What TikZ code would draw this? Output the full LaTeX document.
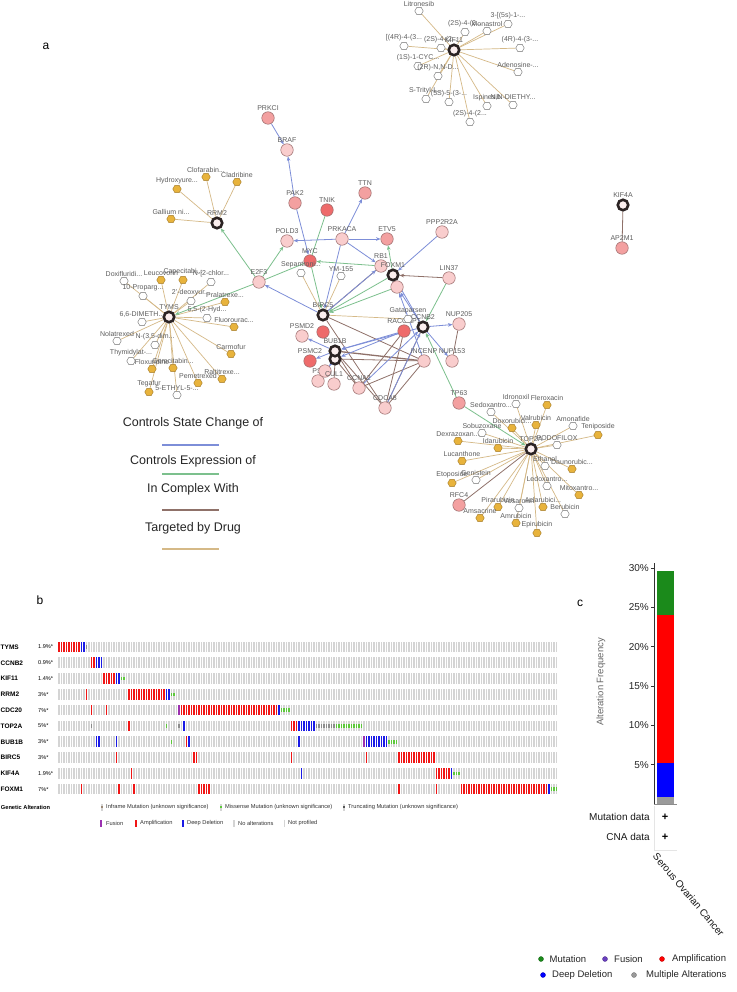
\documentclass[tikz,border=0pt]{standalone}
\usepackage{fontspec}
\setmainfont{Liberation Sans}
\usetikzlibrary{shapes.geometric,arrows.meta}
\pgfdeclarelayer{bg}
\pgfsetlayers{bg,main}
\definecolor{cblue}{HTML}{7D8ED8}
\definecolor{cgreen}{HTML}{7CC08D}
\definecolor{cbrown}{HTML}{8F7169}
\definecolor{ctan}{HTML}{D5B987}
\definecolor{plight}{HTML}{F9CDCD}
\definecolor{pmed}{HTML}{F3A0A0}
\definecolor{pred}{HTML}{EE6B6B}
\definecolor{tfill}{HTML}{FBEEEE}
\definecolor{tborder}{HTML}{2B2323}
\definecolor{gborder}{HTML}{9A6C6C}
\definecolor{dorange}{HTML}{E8B33C}
\definecolor{dborder}{HTML}{A37B2A}
\definecolor{wborder}{HTML}{6E6E6E}
\definecolor{lblgray}{HTML}{5E5E5E}
\definecolor{opgray}{HTML}{D4D4D4}
\definecolor{opred}{HTML}{F01515}
\definecolor{opblue}{HTML}{1A1AE6}
\definecolor{opgreen}{HTML}{5CC93A}
\definecolor{optrunc}{HTML}{8C8C8C}
\definecolor{oppurple}{HTML}{9B30B0}
\definecolor{barg}{HTML}{1B8A1B}
\definecolor{barr}{HTML}{FF0000}
\definecolor{barb}{HTML}{0000FF}
\definecolor{barm}{HTML}{9A9A9A}
\definecolor{lgpurple}{HTML}{6A3FBF}
\tikzset{
  gene/.style={circle,minimum size=12.5pt,inner sep=0pt,draw=gborder,line width=0.5pt,fill=#1},
  gene/.default=plight,
  tgt/.style={circle,minimum size=10.5pt,inner sep=0pt,draw=tborder,line width=2.6pt,fill=tfill},
  dro/.style={regular polygon,regular polygon sides=6,minimum size=8.5pt,inner sep=0pt,fill=dorange,draw=dborder,line width=0.4pt},
  drw/.style={regular polygon,regular polygon sides=6,minimum size=8.5pt,inner sep=0pt,fill=white,draw=wborder,line width=0.4pt},
  lbl/.style={font=\fontsize{7}{7}\selectfont,text=lblgray,inner sep=0.6pt},
  ar/.style={-{Stealth[length=4.5pt,width=3.6pt]}},
  eb/.style={draw=cblue,line width=0.8pt},
  eg/.style={draw=cgreen,line width=0.8pt},
  ebr/.style={draw=cbrown,line width=0.8pt},
  et/.style={draw=ctan,line width=0.7pt},
  legtxt/.style={font=\fontsize{12.5}{12.5}\selectfont,text=black!85},
  oplab/.style={font=\fontsize{5.7}{5.7}\selectfont,text=black!80,anchor=west,inner sep=0pt},
  ctxt/.style={font=\fontsize{9.5}{9.5}\selectfont,text=black!85,anchor=west,inner sep=0pt},
  cdot/.style={circle,minimum size=5pt,inner sep=0pt,fill=#1,draw=#1!70!black,line width=0.3pt},
}
\newcommand\DO[3]{\node[dro,label={[lbl]above:{#3}}] (#1) at (#2) {};}
\newcommand\DW[3]{\node[drw,label={[lbl]above:{#3}}] (#1) at (#2) {};}
\newcommand\GN[4]{\node[gene=#2,label={[lbl]above:{#4}}] (#1) at (#3) {};}
\newcommand\TG[3]{\node[tgt,label={[lbl]above:{#3}}] (#1) at (#2) {};}
\newcommand\OPA[3]{\foreach \smp in {#3}{\fill[#1] ({58+2.5*\smp},{641.6+15.8*#2}) rectangle ++(1.8,10.6);}}
\newcommand\OPM[3]{\foreach \smp in {#3}{\fill[#1] ({58+2.5*\smp},{645.1+15.8*#2}) rectangle ++(1.8,3.6);}}
\newcommand\OPL[3]{\node[font=\bfseries\fontsize{6.5}{6.5}\selectfont,anchor=west,inner sep=0pt] (gl#1) at (0.5,{647+15.8*#1}) {#2};
  \node[font=\fontsize{5.6}{5.6}\selectfont,anchor=west,inner sep=0pt] (gp#1) at (38,{647+15.8*#1}) {#3};}
\begin{document}
\begin{tikzpicture}[x=1pt,y=-1pt]
\useasboundingbox (0,0) rectangle (736,992);
\begin{pgfonlayer}{bg}
\fill[white] (0,0) rectangle (736,992);
\end{pgfonlayer}

% ---------------- panel a ----------------
\node[font=\fontsize{12}{12}\selectfont] (la) at (46,46) {a};

% genes
\GN{prkci}{pmed}{268,118}{PRKCI}
\GN{braf}{plight}{287,150}{BRAF}
\GN{pak2}{pmed}{295,203}{PAK2}
\GN{tnik}{pred}{327,210}{TNIK}
\GN{ttn}{pmed}{365,193}{TTN}
\GN{pold3}{plight}{287,241}{POLD3}
\GN{prkaca}{plight}{342,239}{PRKACA}
\GN{etv5}{pmed}{387,239}{ETV5}
\GN{ppp}{plight}{442,232}{PPP2R2A}
\GN{myc}{pred}{310,261}{MYC}
\GN{rb1}{plight}{381,266}{RB1}
\GN{lin37}{plight}{449,278}{LIN37}
\GN{e2f3}{plight}{259,282}{E2F3}
\GN{n1}{plight}{397,287}{}
\GN{psmd2}{plight}{302,336}{PSMD2}
\GN{n2}{pred}{323,332}{}
\GN{psmc}{pred}{310,361}{PSMC2}
\GN{psi}{plight}{318,381}{PSI}
\GN{n3}{plight}{325,371}{}
\GN{cul1}{plight}{334,384}{CUL1}
\GN{ccna}{plight}{359,388}{CCNA2}
\GN{cdca8}{plight}{385,408}{CDCA8}
\GN{rac}{pred}{404,331}{RACGAP1}
\GN{incenp}{plight}{424,361}{INCENP}
\GN{nup205}{plight}{459,324}{NUP205}
\GN{nup153}{plight}{452,361}{NUP153}
\GN{tp63}{pmed}{459,403}{TP63}
\GN{rfc4}{pmed}{459,505}{RFC4}
\GN{ap2m1}{pmed}{622,248}{AP2M1}

% drug targets
\TG{kif11}{454,50}{KIF11}
\TG{rrm2}{217,223}{RRM2}
\TG{tyms}{169,317}{TYMS}
\TG{birc5}{323,315}{BIRC5}
\TG{foxm1}{393,275}{FOXM1}
\TG{cdc20}{335,359}{}
\TG{bub1b}{335,351}{BUB1B}
\TG{ccnb2}{423,327}{CCNB2}
\TG{top2a}{531,449}{TOP2A}
\TG{kif4a}{623,205}{KIF4A}

% BIRC5 drugs
\DW{sep}{301,273}{Sepantroni...}
\DW{ym}{341,276}{YM-155}
\DW{gat}{408,319}{Gataparsen}

% KIF11 drugs
\DW{k1}{419,11}{Litronesib}
\DW{k2}{508,24}{3-[(5s)-1-...}
\DW{k3}{465,32}{(2S)-4-(2...}
\DW{k4}{487,31}{Monastrol}
\DW{k5}{404,46}{[(4R)-4-(3...}
\DW{k6}{441,48}{(2S)-4-(2...}
\DW{k7}{520,48}{(4R)-4-(3-...}
\DW{k8}{418,66}{(1S)-1-CYC...}
\DW{k9}{438,76}{(2R)-N,N-D...}
\DW{k10}{518,72}{Adenosine-...}
\DW{k11}{426,99}{S-Trityl-L...}
\DW{k12}{449,102}{(5S)-5-(3-...}
\DW{k13}{487,106}{Ispinesib}
\DW{k14}{513,105}{N,N-DIETHY...}
\DW{k15}{470,122}{(2S)-4-(2...}

% RRM2 drugs
\DO{r1}{206,177}{Clofarabin...}
\DO{r2}{237,182}{Cladribine}
\DO{r3}{177,189}{Hydroxyure...}
\DO{r4}{171,219}{Gallium ni...}

% TYMS drugs
\DW{t1}{124,281}{Doxifluridi...}
\DO{t2}{161,280}{Leucovorin}
\DO{t3}{183,280}{Capecitabi...}
\DW{t4}{211,282}{N-[2-chlor...}
\DW{t5}{143,296}{10-Proparg...}
\DW{t6}{191,301}{2'-deoxyur...}
\DO{t7}{225,302}{Pralatrexe...}
\DW{t8}{142,322}{6,6-DIMETH...}
\DW{t9}{207,318}{5,5-(2-Hyd...}
\DO{t10}{234,327}{Fluorourac...}
\DW{t11}{117,341}{Nolatrexed}
\DW{t12}{155,345}{N-(3,5-dim...}
\DW{t13}{131,361}{Thymidylat-...}
\DO{t14}{231,354}{Carmofur}
\DO{t15}{152,369}{Floxuridine}
\DO{t16}{173,368}{Gemcitabin...}
\DO{t17}{222,379}{Raltitrexe...}
\DO{t18}{198,383}{Pemetrexed}
\DO{t19}{149,392}{Tegafur}
\DW{t20}{177,395}{5-ETHYL-5-...}

% TOP2A drugs
\DW{p1}{516,404}{Idronoxil}
\DO{p2}{547,405}{Fleroxacin}
\DW{p3}{491,412}{Sedoxantro...}
\DO{p4}{512,428}{Doxorubici...}
\DO{p5}{536,425}{Valrubicin}
\DW{p6}{573,426}{Amonafide}
\DO{p7}{598,435}{Teniposide}
\DW{p8}{482,433}{Sobuzoxane}
\DO{p9}{458,441}{Dexrazoxan...}
\DO{p10}{498,448}{Idarubicin}
\DW{p11}{557,445}{PODOFILOX}
\DO{p12}{462,461}{Lucanthone}
\DW{p13}{545,466}{Ethanol}
\DO{p14}{572,469}{Daunorubic...}
\DW{p15}{547,486}{Ledoxantro...}
\DO{p16}{579,495}{Mitoxantro...}
\DO{p17}{452,483}{Etoposide}
\DW{p18}{476,480}{Genistein}
\DO{p19}{498,507}{Pirarubicin}
\DW{p20}{519,508}{Vosaroxin}
\DO{p21}{543,507}{Aclarubici...}
\DW{p22}{565,514}{Berubicin}
\DO{p23}{480,518}{Amsacrine}
\DO{p24}{516,523}{Amrubicin}
\DO{p25}{537,533}{Epirubicin}

\begin{pgfonlayer}{bg}
% drug edges
\foreach \d in {k1,k2,k3,k4,k5,k6,k7,k8,k9,k10,k11,k12,k13,k14,k15} \draw[et] (kif11) -- (\d);
\foreach \d in {r1,r2,r3,r4} \draw[et] (rrm2) -- (\d);
\foreach \d in {t1,t2,t3,t4,t5,t6,t7,t8,t9,t10,t11,t12,t13,t14,t15,t16,t17,t18,t19,t20} \draw[et] (tyms) -- (\d);
\foreach \d in {p1,p2,p3,p4,p5,p6,p7,p8,p9,p10,p11,p12,p13,p14,p15,p16,p17,p18,p19,p20,p21,p22,p23,p24,p25} \draw[et] (top2a) -- (\d);
\foreach \d in {sep,ym,gat} \draw[et] (birc5) -- (\d);
% in complex with
\draw[ebr,line width=1.3pt] (bub1b) -- (incenp);
\foreach \a/\b in {cdc20/incenp,bub1b/cdca8,cdc20/ccna,birc5/incenp,birc5/cdca8,birc5/rb1,rac/cdca8,rac/ccna,ccnb2/cdca8,incenp/cdca8,incenp/ccna,nup205/nup153,rfc4/top2a,kif4a/ap2m1,cdc20/cul1,bub1b/ccna}
  \draw[ebr] (\a) -- (\b);
\draw[ebr,ar] (lin37) -- (foxm1);
% controls expression of
\foreach \a/\b in {e2f3/rrm2,e2f3/tyms,e2f3/pold3,myc/birc5,rb1/myc,foxm1/etv5,foxm1/birc5,lin37/ccnb2,tp63/ccnb2,tp63/top2a,n1/birc5}
  \draw[eg,ar] (\a) -- (\b);
\draw[eg] (myc) -- (e2f3);
\draw[eg] (tnik) -- (myc);
% controls state change of
\foreach \a/\b in {prkci/braf,pak2/braf,pak2/myc,prkaca/pold3,prkaca/etv5,prkaca/ttn,prkaca/rb1,prkaca/birc5,ppp/foxm1,birc5/e2f3,ccnb2/nup205,ccnb2/nup153,ccnb2/foxm1,ccnb2/n1,ccnb2/bub1b,rac/bub1b,rac/cdc20,cdca8/ccnb2,ccna/ccnb2,birc5/rb1,bub1b/psmd2,bub1b/psmc,cdc20/psi,cdc20/n3,incenp/n1}
  \draw[eb,ar] (\a) -- (\b);
\end{pgfonlayer}

% network legend
\node[legtxt] (lg1) at (193,423) {Controls State Change of};
\draw[cblue,line width=1.6pt] (162,445) -- (219,445);
\node[legtxt] (lg2) at (193,461) {Controls Expression of};
\draw[cgreen,line width=1.6pt] (162,474) -- (219,474);
\node[legtxt] (lg3) at (193,489) {In Complex With};
\draw[cbrown,line width=1.6pt] (162,510) -- (219,510);
\node[legtxt] (lg4) at (193,528) {Targeted by Drug};
\draw[ctan,line width=1.6pt] (162,549) -- (219,549);

% ---------------- panel b ----------------
\node[font=\fontsize{12}{12}\selectfont] (lb) at (40,600) {b};
\foreach \r in {0,...,9}{
  \foreach \smp in {0,...,199}{
    \fill[opgray] ({58+2.5*\smp},{641.6+15.8*\r}) rectangle ++(1.8,10.6);
  }
}
\OPL{0}{TYMS}{1.9\%*}
\OPL{1}{CCNB2}{0.9\%*}
\OPL{2}{KIF11}{1.4\%*}
\OPL{3}{RRM2}{3\%*}
\OPL{4}{CDC20}{7\%*}
\OPL{5}{TOP2A}{5\%*}
\OPL{6}{BUB1B}{3\%*}
\OPL{7}{BIRC5}{3\%*}
\OPL{8}{KIF4A}{1.9\%*}
\OPL{9}{FOXM1}{7\%*}
% TYMS
\OPA{opred}{0}{0,...,8}\OPA{opblue}{0}{9,10}\OPM{optrunc}{0}{11}
% CCNB2
\OPA{opred}{1}{13,14}\OPA{opblue}{1}{15,16,17}
% KIF11
\OPA{opred}{2}{18,...,22}\OPA{opblue}{2}{23,24}\OPM{opgreen}{2}{25,26}
% RRM2
\OPA{opred}{3}{11}\OPA{opred}{3}{28,...,42}\OPA{opblue}{3}{43,44}\OPM{opgreen}{3}{45,46}
% CDC20
\OPA{opred}{4}{13,19}\OPA{oppurple}{4}{48}\OPA{opred}{4}{49,...,87}\OPA{opblue}{4}{88}\OPM{opgreen}{4}{89,...,92}
% TOP2A
\OPM{optrunc}{5}{13,48}\OPA{opred}{5}{28}\OPM{opgreen}{5}{43}\OPA{opblue}{5}{50}\OPA{opred}{5}{93,94,95}
\OPA{opblue}{5}{96,...,102}\OPM{optrunc}{5}{103,...,110}\OPM{opgreen}{5}{111,...,121}
% BUB1B
\OPA{opblue}{6}{15,16}\OPA{opblue}{6}{23}\OPM{opgreen}{6}{45}\OPA{opred}{6}{51}\OPA{opblue}{6}{52,96}
\OPA{oppurple}{6}{122}\OPA{opblue}{6}{123,...,131}\OPM{opgreen}{6}{132,...,135}
% BIRC5
\OPA{opred}{7}{23}\OPA{opred}{7}{54,55}\OPA{opred}{7}{93,123}\OPA{opred}{7}{136,...,150}
% KIF4A
\OPA{opred}{8}{29}\OPA{opblue}{8}{97}\OPA{opred}{8}{151,...,156}\OPA{opblue}{8}{157}\OPM{opgreen}{8}{158,159,160}
% FOXM1
\OPA{opred}{9}{9,24,30}\OPA{opred}{9}{56,...,60}\OPA{opred}{9}{136,151}\OPA{opred}{9}{161,...,195}\OPA{opblue}{9}{196}\OPM{opgreen}{9}{197,198,199}

% oncoprint legend
\node[font=\bfseries\fontsize{5.7}{5.7}\selectfont,anchor=west,inner sep=0pt] (galt) at (0.7,807) {Genetic Alteration};
\fill[opgray] (101,803.5) rectangle ++(1.8,7);
\fill[optrunc!70!brown] (101,805.7) rectangle ++(1.8,2.6);
\node[oplab] (lt1) at (106,807) {Inframe Mutation (unknown significance)};
\fill[opgray] (220,803.5) rectangle ++(1.8,7);
\fill[opgreen] (220,805.7) rectangle ++(1.8,2.6);
\node[oplab] (lt2) at (225,807) {Missense Mutation (unknown significance)};
\fill[opgray] (343,803.5) rectangle ++(1.8,7);
\fill[optrunc!60!black] (343,805.7) rectangle ++(1.8,2.6);
\node[oplab] (lt3) at (348,807) {Truncating Mutation (unknown significance)};
\fill[oppurple] (100,819.5) rectangle ++(2,7);
\node[oplab] (lt4) at (106,823) {Fusion};
\fill[opred] (134.5,819.5) rectangle ++(2,7);
\node[oplab] (lt5) at (140,823) {Amplification};
\fill[opblue] (181.5,819.5) rectangle ++(2,7);
\node[oplab] (lt6) at (187,823) {Deep Deletion};
\fill[opgray] (232.5,819.5) rectangle ++(2,7);
\node[oplab] (lt7) at (238,823) {No alterations};
\draw[opgray,line width=0.3pt] (284,819.5) -- (284,826.5);
\node[oplab] (lt8) at (288,823) {Not profiled};

% ---------------- panel c ----------------
\node[font=\fontsize{12}{12}\selectfont] (lc) at (580,603) {c};
\node[rotate=90,font=\fontsize{9.5}{9.5}\selectfont,text=black!60] (yl) at (601,682) {Alteration Frequency};
\fill[barm] (657,804) rectangle (674,797);
\fill[barb] (657,797) rectangle (674,763);
\fill[barr] (657,763) rectangle (674,615);
\fill[barg] (657,615) rectangle (674,570.5);
\draw[black!80,line width=0.6pt] (654,563) -- (654,804.5);
\draw[black!45,line width=0.9pt] (654,804.8) -- (677,804.8);
\foreach \v in {5,10,...,30}{
  \draw[black!80,line width=0.6pt] (651,{804-7.87*\v}) -- (654,{804-7.87*\v});
  \node[anchor=east,font=\fontsize{10}{10}\selectfont,text=black!85,inner sep=1pt] at (650,{804-7.87*\v}) {\v\%};
}
\draw[black!10,line width=0.5pt] (654,806) -- (654,850) -- (677,850);
\node[anchor=east,font=\fontsize{10}{10}\selectfont,text=black!90,inner sep=0pt] (md) at (650,817) {Mutation data};
\node[font=\bfseries\fontsize{11}{11}\selectfont,inner sep=0pt] (mp) at (665,817) {+};
\node[anchor=east,font=\fontsize{10}{10}\selectfont,text=black!90,inner sep=0pt] (cd) at (650,837) {CNA data};
\node[font=\bfseries\fontsize{11}{11}\selectfont,inner sep=0pt] (cp) at (665,837) {+};
\node[rotate=-50,anchor=north west,font=\fontsize{10}{10}\selectfont,text=black!90,inner sep=0pt] (soc) at (658,852) {Serous Ovarian Cancer};

% panel c legend
\node[cdot=barg] (d1) at (541,959) {};
\node[ctxt] (x1) at (549.5,959) {Mutation};
\node[cdot=lgpurple] (d2) at (605,959) {};
\node[ctxt] (x2) at (614,959) {Fusion};
\node[cdot=barr] (d3) at (662,959) {};
\node[ctxt] (x3) at (672,959) {Amplification};
\node[cdot=barb] (d4) at (543,975) {};
\node[ctxt] (x4) at (552,975) {Deep Deletion};
\node[cdot=barm] (d5) at (634,975) {};
\node[ctxt] (x5) at (646,975) {Multiple Alterations};
\end{tikzpicture}
\end{document}
